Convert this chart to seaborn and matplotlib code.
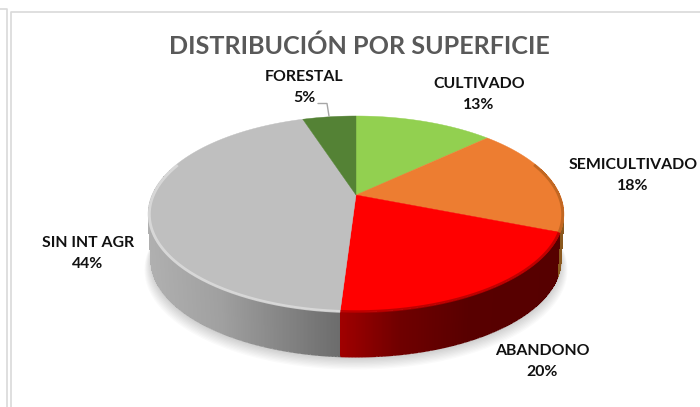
import numpy as np
import matplotlib
matplotlib.use("Agg")
import matplotlib.pyplot as plt
from matplotlib.collections import LineCollection
from matplotlib.colors import to_rgb
import seaborn as sns

# ── Data ───────────────────────────────────────────────────────────────────────
TITLE = "DISTRIBUCIÓN POR SUPERFICIE"
CATEGORIES = ["CULTIVADO", "SEMICULTIVADO", "ABANDONO", "SIN INT AGR", "FORESTAL"]
VALUES = [13, 18, 20, 44, 5]
COLORS = ["#92D050", "#ED7D31", "#FF0000", "#BFBFBF", "#548235"]

# ── Style ──────────────────────────────────────────────────────────────────────
sns.set_theme(style="white")
plt.rcParams["font.family"] = ["Lato", "DejaVu Sans"]

LABEL_POS = [(479, 94.5), (633, 175.5), (542, 361.5), (88, 253.5), (304, 87.5)]
# wall shade as (x pixel, colour) stops, one list per slice
WALL_STOPS = [
    [(356, "#6E9C3C"), (490, "#5A8030")],
    [(480, "#8A4A18"), (570, "#8A5A20")],
    [(340, "#A00000"), (400, "#700000"), (470, "#580000"), (565, "#560000")],
    [(148, "#B0B0B0"), (220, "#A0A0A0"), (340, "#6C6C6C")],
    [(300, "#3E6028"), (356, "#3E6028")],
]

# perspective of the pie disc, in pixels
APEX_X, APEX_Y = 356, 195
SCALE_X, SCALE_Y, TILT = 204, 56.5, 0.194
DEPTH = 47
BASE_R = 0.985


def project(theta, r=1.0):
    """Angle of the pie (degrees) -> pixel position on the tilted disc."""
    x = r * np.cos(np.radians(theta))
    y = r * np.sin(np.radians(theta))
    w = 1 + TILT * y
    return APEX_X + SCALE_X * x / w, (APEX_Y - SCALE_Y * y) / w


fig = plt.figure(figsize=(7.0, 4.07), dpi=100, facecolor="white")
ax = fig.add_axes([0, 0, 1, 1])

# the pie gives the angles of each slice
wedges, _ = ax.pie(VALUES, startangle=90, counterclock=False, colors=COLORS)
slices = [(w.theta1, w.theta2) for w in wedges]
for w in wedges:
    w.set_visible(False)

ax.set_aspect("auto")
ax.set_xlim(0, 700)
ax.set_ylim(407, 0)
ax.axis("off")

# ── Soft shadow ────────────────────────────────────────────────────────────────
all_t = np.linspace(0, 360, 361)
for i in range(1, 10):
    sx, sy = project(all_t, BASE_R + 0.0035 * i)
    ax.fill(sx, sy + DEPTH + 1 + i * 0.8, color="black", alpha=0.018, lw=0, zorder=1)

# ── Side wall ──────────────────────────────────────────────────────────────────
for (t1, t2), stops in zip(slices, WALL_STOPS):
    xs = [s[0] for s in stops]
    rgb = np.array([to_rgb(s[1]) for s in stops])
    t = np.linspace(t1, t2, int(abs(t2 - t1) * 3) + 2)
    t = t[np.sin(np.radians(t)) < 0.3]
    if len(t) < 2:
        continue
    tx, ty = project(t)
    bx, by = project(t, BASE_R)
    by = by + DEPTH
    mid = (tx[:-1] + tx[1:]) / 2
    shade = np.column_stack([np.interp(mid, xs, rgb[:, j]) for j in range(3)])
    ax.pcolormesh(np.vstack([tx, bx]), np.vstack([ty, by]), shade[np.newaxis, :, :],
                  shading="flat", antialiased=False, zorder=2)
    # smooth the lower and outer edge of the mesh
    pts = np.column_stack([bx, by])
    segs = np.stack([pts[:-1], pts[1:]], axis=1)
    ax.add_collection(LineCollection(segs, colors=shade, linewidths=1.0, zorder=2))
    ax.set_xlim(0, 700)
    ax.set_ylim(407, 0)

# ── Top of the disc ────────────────────────────────────────────────────────────
for (t1, t2), color in zip(slices, COLORS):
    px, py = project(np.linspace(t1, t2, 200))
    ax.fill(np.r_[APEX_X, px], np.r_[APEX_Y, py], color=color, lw=0.3, ec=color, zorder=3)

# bevel on the front rim
rim_style = {"CULTIVADO": None, "FORESTAL": None, "SEMICULTIVADO": "#B8621F",
             "ABANDONO": "#B00000", "SIN INT AGR": "#DEDEDE"}
for name, (t1, t2) in zip(CATEGORIES, slices):
    if rim_style[name] is None:
        continue
    t = np.linspace(t1, t2, 200)
    t = t[np.sin(np.radians(t)) < 0.35]
    px, py = project(t, 0.994)
    ax.plot(px, py + 0.5, color=rim_style[name], lw=2.0, alpha=0.8, zorder=4,
            solid_capstyle="butt")

# ── Texts ──────────────────────────────────────────────────────────────────────
ax.text(359.5, 54, TITLE, ha="center", va="baseline", fontsize=18.1,
        fontweight="bold", color="#595959", zorder=5)
for name, val, (lx, ly) in zip(CATEGORIES, VALUES, LABEL_POS):
    ax.text(lx, ly, f"{name}\n{val}%", ha="center", va="center", fontsize=11.4,
            fontweight="bold", color="#111111", linespacing=1.72, zorder=5)

# leader line for FORESTAL
ax.plot([318, 327, 329], [103.5, 103.5, 116], color="#A6A6A6", lw=1, zorder=5)

# ── Frames of the screenshot ───────────────────────────────────────────────────
frame = {"color": "#D9D9D9", "lw": 1.2, "zorder": 0}
ax.plot([700, 10.7, 10.7], [11.8, 11.8, 407], **frame)
ax.plot([0, 7, 7], [9, 9, 407], **frame)

fig.savefig("out.png", dpi=100)
